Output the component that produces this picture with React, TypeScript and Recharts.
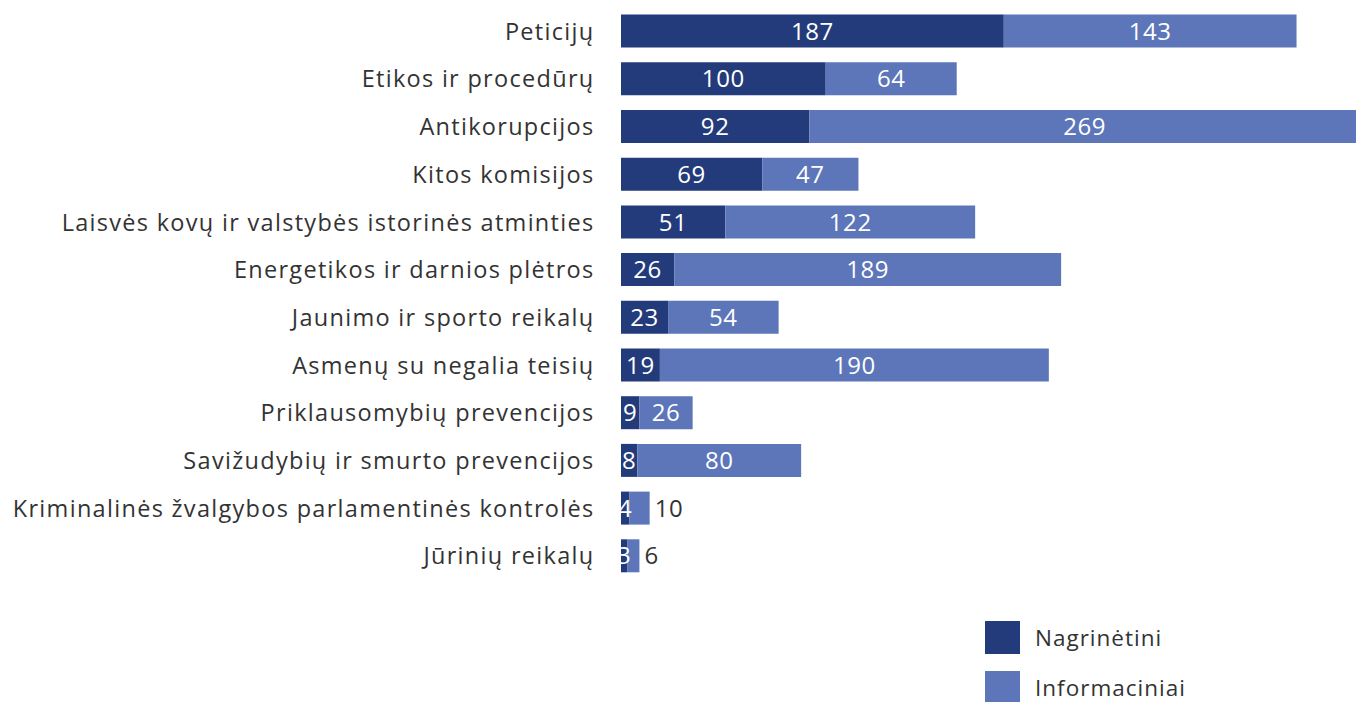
import { BarChart, Bar, XAxis, YAxis, Legend, LabelList } from "recharts";

const categories = [
  "Peticijų",
  "Etikos ir procedūrų",
  "Antikorupcijos",
  "Kitos komisijos",
  "Laisvės kovų ir valstybės istorinės atminties",
  "Energetikos ir darnios plėtros",
  "Jaunimo ir sporto reikalų",
  "Asmenų su negalia teisių",
  "Priklausomybių prevencijos",
  "Savižudybių ir smurto prevencijos",
  "Kriminalinės žvalgybos parlamentinės kontrolės",
  "Jūrinių reikalų",
];

const nagrinetini = [187, 100, 92, 69, 51, 26, 23, 19, 9, 8, 4, 3];
const informaciniai = [143, 64, 269, 47, 122, 189, 54, 190, 26, 80, 10, 6];

const data = categories.map((name, i) => ({
  name,
  nagrinetini: nagrinetini[i],
  informaciniai: informaciniai[i],
}));

const DARK = "#233b7b";
const LIGHT = "#5c76b9";
const FONT = "'Open Sans', 'Noto Sans', sans-serif";

function InsideLabel(props: any) {
  const { x, y, width, height, value } = props;
  return (
    <text
      x={x + width / 2}
      y={y + height / 2}
      dy="0.36em"
      textAnchor="middle"
      fill="#fff"
      fontSize={24}
      letterSpacing={0.6}
      fontFamily={FONT}
    >
      {value}
    </text>
  );
}

function LightLabel(props: any) {
  const { x, y, width, height, value } = props;
  const outside = width < 26;
  return (
    <text
      x={outside ? x + width + 5 : x + width / 2}
      y={y + height / 2}
      dy="0.36em"
      textAnchor={outside ? "start" : "middle"}
      fill={outside ? "#333" : "#fff"}
      fontSize={24}
      letterSpacing={0.6}
      fontFamily={FONT}
    >
      {value}
    </text>
  );
}

function renderLegend() {
  const items = [
    { label: "Nagrinėtini", color: DARK },
    { label: "Informaciniai", color: LIGHT },
  ];
  return (
    <div style={{ fontFamily: FONT }}>
      {items.map((it) => (
        <div
          key={it.label}
          style={{ display: "flex", alignItems: "center", height: 50 }}
        >
          <span
            style={{
              display: "inline-block",
              width: 35,
              height: 33,
              background: it.color,
              marginRight: 15,
            }}
          />
          <span style={{ fontSize: 22.5, color: "#333", letterSpacing: 1 }}>
            {it.label}
          </span>
        </div>
      ))}
    </div>
  );
}

export default function App() {
  return (
    <div
      style={{
        position: "absolute",
        left: 0,
        top: 0,
        width: 1356,
        height: 702,
        overflow: "hidden",
        background: "#fff",
      }}
    >
      <BarChart
        layout="vertical"
        width={1360}
        height={702}
        data={data}
        margin={{ top: 7.6, right: 0, left: 0, bottom: 122 }}
      >
        <XAxis type="number" hide domain={[0, 361]} />
        <YAxis
          type="category"
          dataKey="name"
          width={621}
          tickLine={false}
          axisLine={false}
          tickMargin={20.5}
          interval={0}
          tick={{
            fill: "#333",
            fontSize: 23.5,
            fontFamily: FONT,
            letterSpacing: 1.3,
          }}
        />
        <Legend
          layout="vertical"
          align="center"
          verticalAlign="middle"
          content={renderLegend}
          wrapperStyle={{ left: 985, top: 612, width: 300 }}
        />
        <Bar
          dataKey="nagrinetini"
          name="Nagrinėtini"
          stackId="a"
          fill={DARK}
          barSize={33}
          isAnimationActive={false}
        >
          <LabelList dataKey="nagrinetini" content={InsideLabel} />
        </Bar>
        <Bar
          dataKey="informaciniai"
          name="Informaciniai"
          stackId="a"
          fill={LIGHT}
          barSize={33}
          isAnimationActive={false}
        >
          <LabelList dataKey="informaciniai" content={LightLabel} />
        </Bar>
      </BarChart>
    </div>
  );
}
